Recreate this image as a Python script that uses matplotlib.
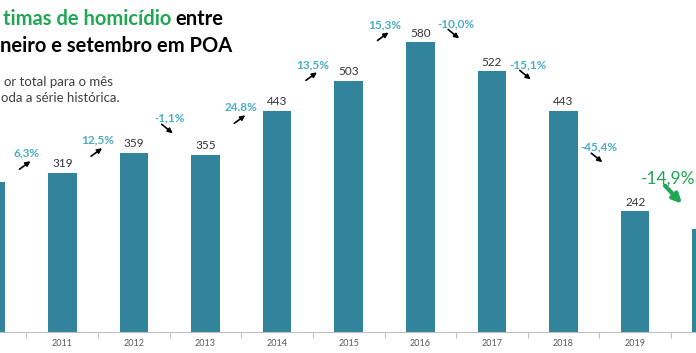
import matplotlib.pyplot as plt
from matplotlib.transforms import offset_copy

plt.rcParams['font.family'] = ['Lato', 'DejaVu Sans']

# dados
anos = ["2010", "2011", "2012", "2013", "2014", "2015", "2016", "2017", "2018", "2019", "2020"]
vitimas = [300, 319, 359, 355, 443, 503, 580, 522, 443, 242, 206]
variacao = ["6,3%", "12,5%", "-1,1%", "24.8%", "13,5%", "15,3%", "-10,0%", "-15,1%", "-45,4%", "-14,9%"]

# deslocamento vertical dos rótulos de variação (em unidades do eixo)
desloc = [39, 25, 69, 7, 33, 36, 38, 14, -73, 65]

COR_BARRA = "#31849b"
COR_PCT = "#4bacc6"
VERDE = "#21a653"
XMIN, XMAX = 0.13, 9.85

fig = plt.figure(figsize=(6.96, 3.53), dpi=100)
ax = fig.add_axes([0, 0.06, 1, 0.94])

x = list(range(len(anos)))
ax.bar(x, vitimas, width=0.40, color=COR_BARRA)

for s in ["top", "left", "right"]:
    ax.spines[s].set_visible(False)
ax.spines["bottom"].set_color("#bfbfbf")
ax.spines["bottom"].set_linewidth(0.8)
ax.set_yticks([])
ax.set_xticks(x, anos)
ax.set_xticks([i + 0.5 for i in range(-1, len(anos))], minor=True)
ax.tick_params(axis="x", which="major", length=0, labelsize=6.5, colors="#595959", pad=5)
ax.tick_params(axis="x", which="minor", length=4, color="#bfbfbf", width=0.8)
ax.set_xlim(XMIN, XMAX)
ax.set_ylim(0, 665)

# rótulos de valor (só as barras que aparecem inteiras no recorte)
for i, v in enumerate(vitimas):
    if XMIN < i < XMAX:
        ax.text(i, v + 18, str(v), ha="center", va="center", fontsize=8.5, color="#333333")

# variações com setas
for i, pct in enumerate(variacao):
    xm = i + 0.5
    ym = max(vitimas[i], vitimas[i + 1]) + desloc[i]
    sobe = vitimas[i + 1] > vitimas[i]
    ultimo = i == len(variacao) - 1
    if ultimo:
        ax.text(XMAX - 0.01, ym, pct, ha="right", va="center", fontsize=12.5, color=VERDE)
        tail, head = (-6, -7), (11, -25)
        props = dict(arrowstyle="-|>", color=VERDE, lw=3, mutation_scale=13, shrinkA=0, shrinkB=0)
    else:
        ax.text(xm, ym, pct, ha="center", va="center", fontsize=8.5, color=COR_PCT, fontweight="bold")
        if sobe:
            tail, head = (-7, -16), (4, -8)
        else:
            tail, head = (-8, -6), (3, -15)
        props = dict(arrowstyle="-|>", color="black", lw=1.2, mutation_scale=7, shrinkA=0, shrinkB=0)
    ax.annotate("", xy=(xm, ym), xycoords=offset_copy(ax.transData, fig, x=head[0], y=head[1], units="dots"),
                xytext=(xm, ym), textcoords=offset_copy(ax.transData, fig, x=tail[0], y=tail[1], units="dots"),
                arrowprops=props, annotation_clip=False)

# título e subtítulo (o recorte original corta o início das linhas)
t1 = fig.text(0.004, 0.929, "timas de homicídio", ha="left", va="baseline", fontsize=14.5, fontweight="bold", color=VERDE)
fig.canvas.draw()
bb = t1.get_window_extent().transformed(fig.transFigure.inverted())
fig.text(bb.x1 + 0.006, 0.929, "entre", ha="left", va="baseline", fontsize=14.5, fontweight="bold", color="black")
fig.text(0.0, 0.853, "neiro e setembro em POA", ha="left", va="baseline", fontsize=14.5, fontweight="bold", color="black")
fig.text(0.006, 0.756, "or total para o mês", ha="left", va="baseline", fontsize=9.5, color="#404040")
fig.text(0.002, 0.711, "oda a série histórica.", ha="left", va="baseline", fontsize=9.5, color="#404040")

fig.savefig("out.png", dpi=100)
